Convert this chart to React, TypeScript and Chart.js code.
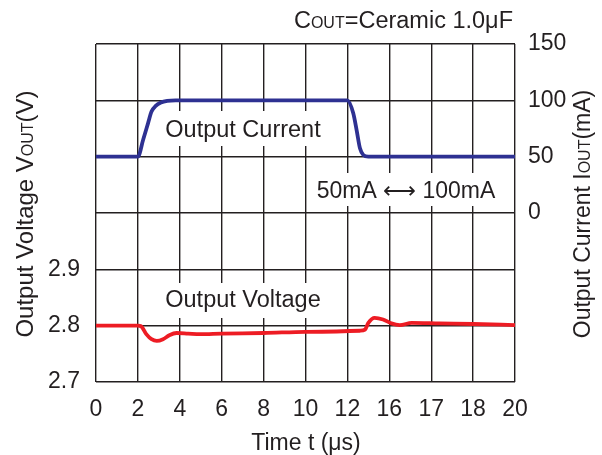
import React, { useEffect, useRef } from 'react';
import { Chart, registerables } from 'chart.js';

Chart.register(...registerables);

// ---- Data ----
const TIME_CURRENT = [0, 2.0, 2.25, 2.49, 2.65, 2.85, 3.1, 3.4, 3.8, 12.0, 12.28, 12.44, 12.6, 12.76, 13.0, 20];
const CURRENT_MA = [50, 50, 65, 80, 90, 95, 98, 99.5, 100, 100, 88.5, 73.6, 57.4, 51.5, 50, 50];

const TIME_VOLTAGE = [0, 2.0, 2.15, 2.4, 2.65, 2.9, 3.2, 3.5, 3.85, 4.4, 4.97, 6, 8, 10, 12.6, 12.84, 13.0, 13.3, 13.7, 14.1, 14.5, 15.07, 16.4, 18, 20];
const VOLTAGE_V = [2.8, 2.8, 2.799, 2.785, 2.776, 2.773, 2.776, 2.783, 2.787, 2.786, 2.785, 2.786, 2.787, 2.789, 2.791, 2.793, 2.805, 2.814, 2.811, 2.804, 2.801, 2.805, 2.804, 2.803, 2.801];

const X_TICK_VALUES = [0, 2, 4, 6, 8, 10, 12, 14, 16, 18, 20];
const X_TICK_LABELS = ['0', '2', '4', '6', '8', '10', '12', '16', '17', '18', '20'];
const VOUT_TICK_VALUES = [2.7, 2.8, 2.9, 3.0, 3.1, 3.2, 3.3];
const VOUT_TICK_LABELS = ['2.7', '2.8', '2.9', '', '', '', ''];
const IOUT_TICK_VALUES = [-150, -100, -50, 0, 50, 100, 150];
const IOUT_TICK_LABELS = ['', '', '', '0', '50', '100', '150'];

const FONT = '"Liberation Sans", Arial, "DejaVu Sans", sans-serif';
const TEXT_COLOR = '#231f20';
const GRID_COLOR = '#231f20';
const BLUE = '#2e3192';
const RED = '#ed1c24';

type Part = [string, number];

function drawRich(ctx: CanvasRenderingContext2D, parts: Part[], x: number, y: number, align: 'left' | 'center' | 'right') {
  let total = 0;
  const widths: number[] = [];
  for (const [t, s] of parts) {
    ctx.font = `${s}px ${FONT}`;
    const w = ctx.measureText(t).width;
    widths.push(w);
    total += w;
  }
  let cx = align === 'left' ? x : align === 'center' ? x - total / 2 : x - total;
  ctx.textAlign = 'left';
  ctx.textBaseline = 'alphabetic';
  parts.forEach(([t, s], i) => {
    ctx.font = `${s}px ${FONT}`;
    ctx.fillText(t, cx, y);
    cx += widths[i];
  });
}

const annotationPlugin = {
  id: 'annotations',
  beforeDatasetsDraw(chart: any) {
    const ctx: CanvasRenderingContext2D = chart.ctx;
    ctx.save();
    ctx.fillStyle = '#ffffff';
    ctx.fillRect(146, 111, 193, 35);
    ctx.fillRect(146, 283, 193, 35);
    ctx.fillRect(309, 173, 202, 33);
    ctx.fillStyle = TEXT_COLOR;
    drawRich(ctx, [['Output Current', 23.5]], 243, 137, 'center');
    drawRich(ctx, [['Output Voltage', 23.5]], 243, 307, 'center');
    drawRich(ctx, [['50mA ', 23], ['\u27F7', 23], [' 100mA', 23]], 406, 198, 'center');
    ctx.restore();
  },
  afterDraw(chart: any) {
    const ctx: CanvasRenderingContext2D = chart.ctx;
    ctx.save();
    ctx.fillStyle = TEXT_COLOR;
    // top note
    drawRich(ctx, [['C', 23.5], ['OUT', 16], ['=Ceramic 1.0\u03BCF', 23.5]], 513, 28, 'right');
    // x title
    drawRich(ctx, [['Time t (\u03BCs)', 23]], 306, 450, 'center');
    // left title
    ctx.save();
    ctx.translate(24, 214);
    ctx.rotate(-Math.PI / 2);
    drawRich(ctx, [['Output Voltage V', 24], ['OUT', 16], ['(V)', 24]], 0, 8.5, 'center');
    ctx.restore();
    // right title
    ctx.save();
    ctx.translate(581, 214);
    ctx.rotate(-Math.PI / 2);
    drawRich(ctx, [['Output Current I', 23], ['OUT', 16], ['(mA)', 23]], 0, 8.5, 'center');
    ctx.restore();
    ctx.restore();
  },
};

export default function App() {
  const ref = useRef<HTMLCanvasElement | null>(null);
  useEffect(() => {
    if (!ref.current) return;
    const chart = new Chart(ref.current, {
      type: 'line',
      data: {
        datasets: [
          {
            label: 'Output Current',
            data: TIME_CURRENT.map((t, i) => ({ x: t, y: CURRENT_MA[i] })),
            yAxisID: 'y1',
            borderColor: BLUE,
            borderWidth: 3.8,
            pointRadius: 0,
            cubicInterpolationMode: 'monotone',
            fill: false,
          },
          {
            label: 'Output Voltage',
            data: TIME_VOLTAGE.map((t, i) => ({ x: t, y: VOLTAGE_V[i] })),
            yAxisID: 'y',
            borderColor: RED,
            borderWidth: 3.8,
            pointRadius: 0,
            cubicInterpolationMode: 'monotone',
            fill: false,
          },
        ],
      },
      options: {
        animation: false,
        responsive: false,
        maintainAspectRatio: false,
        layout: { padding: { top: 44, left: 0, right: 0, bottom: 0 } },
        plugins: { legend: { display: false }, tooltip: { enabled: false } },
        scales: {
          x: {
            type: 'linear',
            min: 0,
            max: 20,
            afterBuildTicks: (s: any) => { s.ticks = X_TICK_VALUES.map((v) => ({ value: v })); },
            afterFit: (s: any) => { s.height = 73; },
            ticks: {
              callback: (_v: any, i: number) => X_TICK_LABELS[i],
              font: { family: FONT, size: 23 },
              color: TEXT_COLOR,
              padding: 14,
              maxRotation: 0,
              autoSkip: false,
            },
            grid: { color: GRID_COLOR, lineWidth: 1.4, drawTicks: false },
            border: { display: false },
          },
          y: {
            type: 'linear',
            position: 'left',
            min: 2.7,
            max: 3.3,
            afterBuildTicks: (s: any) => { s.ticks = VOUT_TICK_VALUES.map((v) => ({ value: v })); },
            afterFit: (s: any) => { s.width = 96; },
            ticks: {
              callback: (_v: any, i: number) => VOUT_TICK_LABELS[i],
              font: { family: FONT, size: 23 },
              color: TEXT_COLOR,
              padding: 16,
              autoSkip: false,
            },
            grid: { color: GRID_COLOR, lineWidth: 1.4, drawTicks: false },
            border: { display: false },
          },
          y1: {
            type: 'linear',
            position: 'right',
            min: -150,
            max: 150,
            afterBuildTicks: (s: any) => { s.ticks = IOUT_TICK_VALUES.map((v) => ({ value: v })); },
            afterFit: (s: any) => { s.width = 87; },
            ticks: {
              callback: (_v: any, i: number) => IOUT_TICK_LABELS[i],
              font: { family: FONT, size: 23 },
              color: TEXT_COLOR,
              padding: 13,
              autoSkip: false,
            },
            grid: { display: false, drawTicks: false },
            border: { display: false },
          },
        },
      },
      plugins: [annotationPlugin],
    } as any);
    return () => chart.destroy();
  }, []);
  return (
    <div style={{ position: 'absolute', left: 0, top: 0, width: 602, height: 455, background: '#fff' }}>
      <canvas ref={ref} width={602} height={455} style={{ width: 602, height: 455, display: 'block' }} />
    </div>
  );
}
